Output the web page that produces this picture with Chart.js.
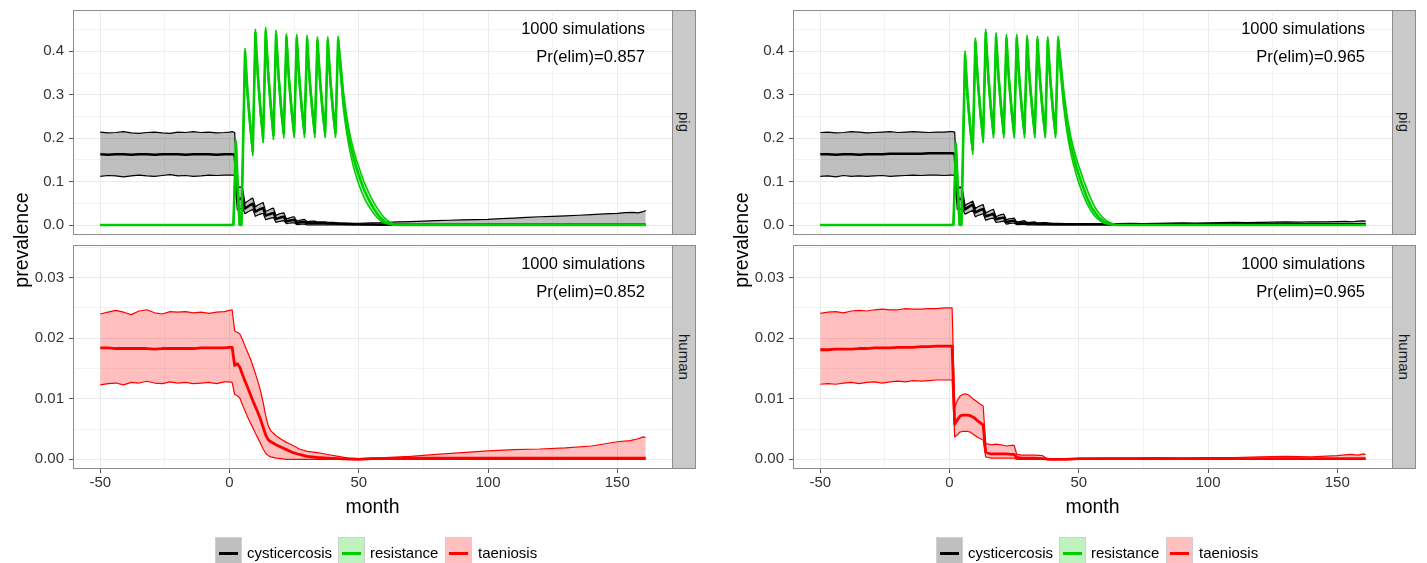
<!DOCTYPE html>
<html>
<head>
<meta charset="utf-8">
<script src="https://cdn.jsdelivr.net/npm/chart.js@4/dist/chart.umd.min.js"></script>
<style>
html,body{margin:0;padding:0;background:#fff;}
#stage{position:relative;width:1427px;height:563px;overflow:hidden;font-family:"Liberation Sans",Arial,sans-serif;}
#stage canvas{position:absolute;}
.strip{position:absolute;background:#c9c9c9;border:1px solid #8c8c8c;box-sizing:border-box;display:flex;align-items:center;justify-content:center;}
.strip span{writing-mode:vertical-rl;font-size:15px;color:#1a1a1a;line-height:1;}
.ann{position:absolute;width:300px;font-size:16.5px;line-height:20px;height:20px;color:#000;text-align:right;white-space:nowrap;}
.ytitle{position:absolute;width:200px;height:24px;line-height:24px;font-size:19.5px;text-align:center;color:#000;transform:rotate(-90deg);white-space:nowrap;}
.xtitle{position:absolute;width:200px;height:24px;line-height:24px;font-size:19.5px;text-align:center;color:#000;white-space:nowrap;}
.key{position:absolute;top:537px;width:27px;height:32px;box-sizing:border-box;border:1px solid #d0d0d0;}
.key i{position:absolute;left:3px;right:3px;top:14px;height:3px;display:block;}
.ltxt{position:absolute;top:543px;height:20px;line-height:20px;font-size:15px;color:#000;white-space:nowrap;}
</style>
</head>
<body>
<div id="stage"></div>
<script>
// ---------------- DATA ----------------
const xTicks = [-50, 0, 50, 100, 150];
const xTickLabels = ['-50', '0', '50', '100', '150'];
const xMinor = [-25, 25, 75, 125];
const pigTicks = [0, 0.1, 0.2, 0.3, 0.4];
const pigTickLabels = ['0.0', '0.1', '0.2', '0.3', '0.4'];
const pigMinor = [0.05, 0.15, 0.25, 0.35, 0.45];
const humTicks = [0, 0.01, 0.02, 0.03];
const humTickLabels = ['0.00', '0.01', '0.02', '0.03'];
const humMinor = [0.005, 0.015, 0.025, 0.035];

const pigMonths = [-50,-47,-44,-41,-38,-35,-32,-29,-26,-23,-20,-17,-14,-11,-8,-5,-2,
  0,1,2,3,4,5,6,7,8,9,10,11,12,13,14,15,16,17,18,19,20,21,22,23,24,25,26,27,28,29,30,31,32,33,34,35,36,37,38,
  40,42,45,48,50,55,60,65,70,75,80,85,90,95,100,105,110,115,120,125,130,135,140,145,150,153,156,158,160,161];

const L_cyst_med = [.163,.162,.163,.163,.162,.163,.163,.162,.163,.163,.163,.162,.163,.163,.163,.162,.163,
  .163,.163,.162,.058,.060,.062,.038,.042,.046,.049,.031,.034,.037,.039,.022,.024,.026,.028,.014,.016,.018,.019,.008,.010,.011,.012,.005,.006,.007,.007,.004,.0045,.005,.005,.004,.004,.004,.004,.0035,
  .0035,.003,.0025,.002,.0015,.001,.0008,.0006,.0005,.0005,.0005,.0005,.0005,.0005,.0005,.0005,.0005,.0005,.0005,.0005,.0005,.0005,.0005,.0005,.0005,.0005,.0005,.0005,.0005,.0005];
const L_cyst_lo = [.112,.114,.113,.111,.113,.115,.113,.112,.114,.116,.113,.114,.112,.113,.115,.114,.115,
  .115,.115,.114,.035,.037,.040,.026,.030,.033,.036,.020,.023,.025,.027,.012,.014,.016,.017,.006,.008,.009,.010,.003,.004,.005,.005,.001,.0015,.002,.002,0,.0005,.0005,.0005,0,0,0,0,0,
  0,0,0,0,0,0,0,0,0,0,0,0,0,0,0,0,0,0,0,0,0,0,0,0,0,0,0,0,0,0];
const L_cyst_hi = [.214,.212,.213,.215,.212,.211,.213,.214,.212,.211,.214,.213,.215,.213,.214,.212,.213,
  .214,.215,.213,.083,.088,.085,.050,.055,.059,.062,.042,.046,.049,.052,.031,.034,.037,.039,.022,.025,.027,.028,.014,.016,.018,.019,.009,.011,.012,.013,.008,.0085,.009,.009,.007,.007,.0075,.0075,.006,
  .006,.005,.0045,.004,.004,.005,.0055,.007,.008,.009,.010,.011,.012,.0125,.013,.0145,.016,.0175,.019,.020,.021,.0225,.024,.0255,.027,.0285,.029,.028,.031,.033];

const R_cyst_med = [.163,.163,.162,.163,.163,.162,.163,.163,.163,.164,.164,.164,.164,.164,.165,.165,.165,
  .165,.165,.164,.058,.060,.060,.036,.040,.044,.047,.029,.032,.035,.037,.020,.022,.024,.026,.013,.015,.016,.017,.007,.008,.009,.010,.004,.005,.005,.006,.003,.003,.0035,.004,.0025,.0025,.0025,.003,.0025,
  .002,.002,.002,.002,.002,.002,.002,.002,.002,.002,.002,.002,.002,.002,.002,.002,.002,.002,.002,.002,.002,.002,.002,.002,.002,.002,.002,.002,.002,.002];
const R_cyst_lo = [.112,.113,.111,.114,.112,.113,.112,.113,.114,.112,.113,.114,.115,.114,.115,.115,.114,
  .115,.115,.114,.036,.036,.038,.025,.028,.031,.034,.019,.022,.024,.026,.011,.013,.015,.016,.006,.007,.008,.009,.002,.003,.004,.004,.001,.001,.0015,.0015,0,0,0,.0005,0,0,0,0,0,
  0,0,0,0,0,0,0,0,0,0,0,0,0,0,0,0,0,0,0,0,0,0,0,0,0,0,0,0,0,0];
const R_cyst_hi = [.213,.214,.212,.213,.215,.214,.212,.213,.214,.215,.213,.214,.215,.214,.213,.214,.214,
  .215,.215,.214,.080,.088,.082,.045,.049,.052,.055,.038,.042,.045,.047,.028,.031,.034,.036,.019,.022,.024,.025,.012,.014,.015,.016,.007,.008,.009,.010,.006,.006,.0065,.007,.005,.005,.0055,.0055,.005,
  .004,.004,.0035,.003,.003,.003,.003,.0035,.004,.0035,.004,.0045,.005,.0045,.005,.0055,.006,.0055,.006,.0065,.007,.0065,.0075,.007,.008,.0085,.0075,.009,.0095,.009];

const greenMonths = [-50,0,1.5,2.5,3.2,3.9,4.6,
  6,7,8,9,10,11,12,13,14,15,16,17,18,19,20,21,22,23,24,25,26,27,28,29,30,31,32,33,34,35,36,37,38,39,40,41,42,
  43,44,45,46,47,48,49,50,51,52,53,54,55,56,57,58,59,60,61,62,63,64,65,66,
  161];

const L_res_med = [0,0,0,.19,.08,0,0,
  .399,.30,.23,.17,.442,.34,.262,.20,.446,.345,.27,.207,.44,.34,.265,.211,.432,.335,.265,.212,.43,.335,.265,.212,.428,.333,.265,.212,.425,.333,.264,.212,.425,.333,.264,.212,.426,
  .36,.29,.245,.207,.178,.155,.133,.115,.098,.082,.069,.057,.046,.036,.027,.019,.013,.008,.005,.003,.0015,.0005,0,0,
  0];
const L_res_lo = [0,0,0,.175,.06,0,0,
  .39,.29,.22,.16,.432,.33,.252,.19,.436,.335,.26,.197,.43,.33,.255,.201,.422,.325,.255,.202,.42,.325,.255,.202,.418,.323,.255,.202,.415,.323,.254,.202,.415,.323,.254,.202,.416,
  .34,.27,.225,.188,.158,.133,.112,.094,.078,.064,.052,.042,.033,.025,.018,.012,.008,.005,.003,.0015,.0005,0,0,0,
  0];
const L_res_hi = [0,0,.002,.195,.10,.004,.01,
  .406,.31,.24,.18,.45,.35,.272,.21,.454,.355,.28,.217,.448,.35,.275,.221,.44,.345,.275,.222,.438,.345,.275,.222,.436,.343,.275,.222,.433,.343,.274,.222,.433,.343,.274,.222,.434,
  .378,.31,.264,.226,.197,.173,.152,.134,.116,.10,.086,.073,.061,.05,.04,.031,.023,.016,.011,.007,.004,.002,.001,0,
  0];

const R_res_med = [0,0,0,.185,.08,0,0,
  .392,.295,.225,.173,.422,.328,.255,.20,.442,.342,.268,.211,.434,.337,.266,.211,.43,.335,.265,.211,.43,.335,.265,.211,.428,.333,.265,.211,.426,.333,.264,.211,.425,.333,.264,.211,.426,
  .365,.30,.252,.213,.182,.158,.135,.116,.098,.082,.065,.052,.04,.031,.023,.016,.011,.007,.005,.003,.0015,.0005,0,0,
  0];
const R_res_lo = [0,0,0,.17,.06,0,0,
  .383,.285,.215,.163,.412,.318,.245,.19,.432,.332,.258,.201,.424,.327,.256,.201,.42,.325,.255,.201,.42,.325,.255,.201,.418,.323,.255,.201,.416,.323,.254,.201,.415,.323,.254,.201,.416,
  .345,.28,.232,.194,.163,.138,.116,.097,.08,.065,.051,.04,.03,.022,.016,.011,.007,.004,.0025,.0012,.0004,0,0,0,
  0];
const R_res_hi = [0,0,.002,.19,.10,.004,.01,
  .40,.305,.235,.183,.43,.338,.265,.21,.45,.352,.278,.221,.442,.347,.276,.221,.438,.345,.275,.221,.438,.345,.275,.221,.436,.343,.275,.221,.434,.343,.274,.221,.433,.343,.274,.221,.434,
  .382,.32,.272,.232,.201,.177,.155,.136,.118,.101,.085,.07,.056,.044,.034,.026,.019,.013,.009,.006,.0035,.0018,.0008,0,
  0];

const L_humMonths = [-50,-47,-44,-41,-38,-35,-32,-29,-26,-23,-20,-17,-14,-11,-8,-5,-2,
  0,1,2,3,4,5,6,7,8,9,10,11,12,13,14,15,16,18,20,22,24,27,30,34,38,42,46,50,
  55,60,70,80,90,100,110,120,130,140,150,155,158,160,161];
const L_taen_med = [.0184,.0184,.0183,.0183,.0183,.0183,.0183,.0182,.0183,.0183,.0183,.0183,.0183,.0184,.0184,.0184,.0184,
  .0185,.0185,.0155,.0158,.0152,.0140,.0129,.0119,.0108,.0097,.0087,.0077,.0066,.0053,.0040,.0032,.0029,.0024,.0020,.0016,.0012,.0008,.0005,.0003,.0002,.0001,.00005,0,
  .0001,.0001,.0002,.0002,.0002,.0002,.0002,.0002,.0002,.0002,.0002,.0002,.0002,.0002,.0002];
const L_taen_lo = [.0123,.0125,.0126,.0123,.0127,.0126,.0129,.0126,.0125,.0128,.0126,.0127,.0125,.0126,.0127,.0125,.0128,
  .0128,.0127,.0107,.0105,.0101,.0090,.0080,.0070,.0061,.0052,.0043,.0035,.0026,.0017,.0010,.0006,.0004,.0002,.0001,0,0,0,0,0,0,0,0,0,
  0,0,0,0,0,0,0,0,0,0,0,0,0,0,0];
const L_taen_hi = [.0240,.0243,.0246,.0243,.0239,.0245,.0247,.0242,.0240,.0244,.0243,.0244,.0242,.0243,.0241,.0243,.0244,
  .0246,.0247,.0212,.0210,.0207,.0198,.0187,.0177,.0167,.0155,.0142,.0128,.0113,.0094,.0072,.0055,.0047,.0039,.0033,.0028,.0024,.0017,.0013,.0011,.0008,.0005,.0002,.0001,
  .0002,.0003,.0005,.0008,.0011,.0014,.0016,.0017,.0019,.0022,.0029,.0031,.0034,.0037,.0036];

const R_humMonths = [-50,-47,-44,-41,-38,-35,-32,-29,-26,-23,-20,-17,-14,-11,-8,-5,-2,
  0,1,2,3,4,5,6,7,8,9,10,11,12,13,14,15,16,18,20,22,24,25,26,28,30,33,36,37,38,40,45,50,
  60,70,80,90,100,110,120,130,140,150,155,158,160,161];
const R_taen_med = [.0181,.0181,.0182,.0182,.0182,.0183,.0183,.0184,.0184,.0184,.0185,.0185,.0185,.0186,.0186,.0187,.0187,
  .0187,.0187,.0058,.0065,.0071,.0073,.0073,.0073,.0072,.0070,.0067,.0063,.0060,.0057,.0012,.0010,.0009,.0009,.0009,.0009,.0008,.0008,.0003,.0002,.0002,.0002,.0001,.0001,0,0,0,.0001,
  .0001,.0001,.0001,.0001,.0001,.0001,.0001,.0001,.0001,.0001,.0001,.0001,.0001,.0001];
const R_taen_lo = [.0124,.0125,.0124,.0126,.0127,.0125,.0127,.0128,.0126,.0128,.0129,.0128,.0130,.0129,.0130,.0131,.0131,
  .0131,.0131,.0037,.0040,.0045,.0046,.0046,.0046,.0045,.0042,.0039,.0036,.0034,.0032,.0004,.0003,.0002,.0002,.0002,.0002,.0002,.0002,0,0,0,0,0,0,0,0,0,0,
  0,0,0,0,0,0,0,0,0,0,0,0,0,0];
const R_taen_hi = [.0241,.0243,.0244,.0242,.0245,.0246,.0245,.0247,.0248,.0247,.0247,.0249,.0248,.0248,.0249,.0249,.0250,
  .0250,.0250,.0085,.0097,.0104,.0107,.0108,.0107,.0104,.0100,.0097,.0094,.0091,.0088,.0026,.0025,.0024,.0025,.0024,.0022,.0023,.0023,.0008,.0007,.0007,.0007,.0006,.0003,.0001,0,0,.0001,
  .0002,.0002,.0003,.0002,.0003,.0003,.0004,.0005,.0004,.0006,.0008,.0007,.0009,.0008];

const simLabel = '1000 simulations';
const pElim = {leftPig: 'Pr(elim)=0.857', leftHuman: 'Pr(elim)=0.852', rightPig: 'Pr(elim)=0.965', rightHuman: 'Pr(elim)=0.965'};
const legendNames = ['cysticercosis', 'resistance', 'taeniosis'];

// ---------------- STYLE / LAYOUT ----------------
const COL = {cyst: '#000000', res: '#00cd00', taen: '#ff0000'};
const FILL = {cyst: 'rgba(0,0,0,0.25)', res: 'rgba(0,205,0,0.25)', taen: 'rgba(255,0,0,0.25)'};
Chart.defaults.font.family = '"Liberation Sans", Arial, sans-serif';
const P = 20, YW = 62, XH = 34;
const X_MIN = -60.55, X_MAX = 171.55;
const stage = document.getElementById('stage');

function near(v, arr) { return arr.some(a => Math.abs(a - v) < 1e-9); }
function series(xs, ys, color, width, extra) {
  if (xs.length !== ys.length) console.error('length mismatch', xs.length, ys.length);
  return Object.assign({
    data: xs.map((x, i) => ({x: x, y: ys[i]})),
    borderColor: color, borderWidth: width, pointRadius: 0, pointHoverRadius: 0,
    tension: 0, fill: false, borderJoinStyle: 'round'
  }, extra || {});
}
const panelBorder = {
  id: 'panelBorder',
  afterDatasetsDraw(chart) {
    const a = chart.chartArea, ctx = chart.ctx;
    ctx.save();
    ctx.strokeStyle = '#8c8c8c';
    ctx.lineWidth = 1;
    ctx.strokeRect(a.left + 0.5, a.top + 0.5, a.right - a.left - 1, a.bottom - a.top - 1);
    ctx.restore();
  }
};

function facet(cfg) {
  const cw = P + YW + cfg.plotW + P;
  const ch = P + cfg.plotH + (cfg.showX ? XH : 0) + P;
  const cv = document.createElement('canvas');
  cv.width = cw; cv.height = ch;
  cv.style.left = (cfg.plotLeft - P - YW) + 'px';
  cv.style.top = (cfg.plotTop - P) + 'px';
  cv.style.width = cw + 'px'; cv.style.height = ch + 'px';
  stage.appendChild(cv);
  const allX = xTicks.concat(xMinor).sort((a, b) => a - b);
  const allY = cfg.yTicks.concat(cfg.yMinor).sort((a, b) => a - b);
  new Chart(cv.getContext('2d'), {
    type: 'line',
    data: {datasets: cfg.datasets},
    options: {
      responsive: false, animation: false, devicePixelRatio: 1, events: [],
      layout: {padding: P},
      plugins: {legend: {display: false}, tooltip: {enabled: false}, filler: {drawTime: 'beforeDatasetsDraw'}},
      scales: {
        x: {
          type: 'linear', min: X_MIN, max: X_MAX,
          afterBuildTicks: s => { s.ticks = allX.map(v => ({value: v})); },
          afterFit: s => { s.height = cfg.showX ? XH : 0; },
          ticks: {display: cfg.showX, autoSkip: false, maxRotation: 0, minRotation: 0, padding: 1,
            color: '#333333', font: {size: 15},
            callback: v => { const i = xTicks.findIndex(t => Math.abs(t - v) < 1e-9); return i >= 0 ? xTickLabels[i] : ''; }},
          grid: {drawTicks: cfg.showX, tickLength: 4, tickWidth: 1,
            color: c => (c.tick && near(c.tick.value, xTicks)) ? '#ebebeb' : '#f3f3f3',
            lineWidth: 1,
            tickColor: c => (c.tick && near(c.tick.value, xTicks)) ? '#555' : 'rgba(0,0,0,0)'},
          border: {display: false}
        },
        y: {
          type: 'linear', min: cfg.yMin, max: cfg.yMax,
          afterBuildTicks: s => { s.ticks = allY.map(v => ({value: v})); },
          afterFit: s => { s.width = YW; },
          ticks: {autoSkip: false, padding: 5, color: '#333333', font: {size: 15},
            callback: v => { const i = cfg.yTicks.findIndex(t => Math.abs(t - v) < 1e-9); return i >= 0 ? cfg.yLabels[i] : ''; }},
          grid: {drawTicks: true, tickLength: 4, tickWidth: 1,
            color: c => (c.tick && near(c.tick.value, cfg.yTicks)) ? '#ebebeb' : '#f3f3f3',
            lineWidth: 1,
            tickColor: c => (c.tick && near(c.tick.value, cfg.yTicks)) ? '#555' : 'rgba(0,0,0,0)'},
          border: {display: false}
        }
      }
    },
    plugins: [panelBorder]
  });
}

function pigSets(resMed, resLo, resHi, cMed, cLo, cHi) {
  return [
    series(greenMonths, resMed, COL.res, 2.6),
    series(greenMonths, resLo, COL.res, 1.6),
    series(greenMonths, resHi, COL.res, 1.6, {fill: 1, backgroundColor: FILL.res}),
    series(pigMonths, cMed, COL.cyst, 2.5),
    series(pigMonths, cLo, COL.cyst, 1.2),
    series(pigMonths, cHi, COL.cyst, 1.2, {fill: 4, backgroundColor: FILL.cyst})
  ];
}
function humSets(xs, med, lo, hi) {
  return [
    series(xs, med, COL.taen, 2.8),
    series(xs, lo, COL.taen, 1.2),
    series(xs, hi, COL.taen, 1.2, {fill: 1, backgroundColor: FILL.taen})
  ];
}

const PIG_Y = {yMin: -0.0230, yMax: 0.4951, yTicks: pigTicks, yMinor: pigMinor, yLabels: pigTickLabels};
const HUM_Y = {yMin: -0.0016, yMax: 0.0354, yTicks: humTicks, yMinor: humMinor, yLabels: humTickLabels};
const panels = [
  {x0: 73, pig: pigSets(L_res_med, L_res_lo, L_res_hi, L_cyst_med, L_cyst_lo, L_cyst_hi),
   hum: humSets(L_humMonths, L_taen_med, L_taen_lo, L_taen_hi), pPig: pElim.leftPig, pHum: pElim.leftHuman},
  {x0: 793, pig: pigSets(R_res_med, R_res_lo, R_res_hi, R_cyst_med, R_cyst_lo, R_cyst_hi),
   hum: humSets(R_humMonths, R_taen_med, R_taen_lo, R_taen_hi), pPig: pElim.rightPig, pHum: pElim.rightHuman}
];

function addDiv(cls, css, html) {
  const d = document.createElement('div');
  d.className = cls;
  Object.assign(d.style, css);
  d.innerHTML = html;
  stage.appendChild(d);
  return d;
}

const legendKeyX = [215, 338, 445];
const legendTextX = [247, 370, 478];
const legendKeys = ['cyst', 'res', 'taen'];

panels.forEach((p, k) => {
  const off = p.x0 - 73;
  facet(Object.assign({plotLeft: p.x0, plotTop: 10, plotW: 600, plotH: 225, showX: false, datasets: p.pig}, PIG_Y));
  facet(Object.assign({plotLeft: p.x0, plotTop: 245, plotW: 600, plotH: 224, showX: true, datasets: p.hum}, HUM_Y));
  addDiv('strip', {left: (p.x0 + 599) + 'px', top: '10px', width: '24px', height: '225px'}, '<span>pig</span>');
  addDiv('strip', {left: (p.x0 + 599) + 'px', top: '245px', width: '24px', height: '224px'}, '<span>human</span>');
  const annLeft = (p.x0 + 572 - 300) + 'px';
  addDiv('ann', {left: annLeft, top: '17.5px'}, simLabel);
  addDiv('ann', {left: annLeft, top: '45.5px'}, p.pPig);
  addDiv('ann', {left: annLeft, top: '253px'}, simLabel);
  addDiv('ann', {left: annLeft, top: '281px'}, p.pHum);
  addDiv('ytitle', {left: (21 + off - 100) + 'px', top: '228px'}, 'prevalence');
  addDiv('xtitle', {left: (372.5 + off - 100) + 'px', top: '494px'}, 'month');
  const loff = k === 0 ? 0 : 721;
  legendKeys.forEach((key, i) => {
    addDiv('key', {left: (legendKeyX[i] + loff) + 'px', background: FILL[key]}, '<i style="background:' + COL[key] + '"></i>');
    addDiv('ltxt', {left: (legendTextX[i] + loff) + 'px'}, legendNames[i]);
  });
});
</script>
</body>
</html>
